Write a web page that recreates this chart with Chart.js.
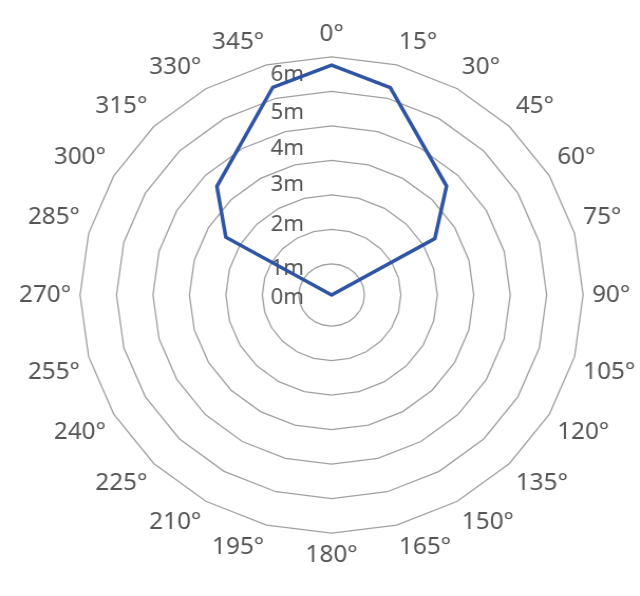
<!DOCTYPE html>
<html>
<head>
<meta charset="utf-8">
<script src="https://cdn.jsdelivr.net/npm/chart.js@4.4.1/dist/chart.umd.min.js"></script>
<style>
  html, body { margin: 0; padding: 0; background: #fff; }
  #chart { display: block; transform: scaleX(1.056); transform-origin: 0 0; }
</style>
</head>
<body>
<canvas id="chart" width="606" height="596"></canvas>
<script>
// ── data ────────────────────────────────────────────────
const directions = ['0°', '15°', '30°', '45°', '60°', '75°', '90°', '105°',
  '120°', '135°', '150°', '165°', '180°', '195°', '210°', '225°',
  '240°', '255°', '270°', '285°', '300°', '315°', '330°', '345°'];

// heights in grid units; the centre of the plot sits at -0.9
const heights = [5.76, 5.32, null, 3.56, 2.37, -0.9, -0.9, -0.9,
  -0.9, -0.9, -0.9, -0.9, -0.9, -0.9, -0.9, -0.9,
  -0.9, -0.9, -0.9, -0.9, 2.45, 3.55, null, 5.33];

const rMin = -0.9;
const rMax = 6;
const rStep = 1;

// how far each "Nm" label sits below its ring, px
const labelDrop = [34, 40, 30, 25, 23, 22, 18];
// pushes the centred tick labels left of the vertical axis
const PAD = '\u2003\u2003\u2003\u2003';

const FONT = "'Noto Sans', 'Open Sans', sans-serif";

new Chart(document.getElementById('chart'), {
  type: 'radar',
  data: {
    labels: directions,
    datasets: [{
      data: heights,
      borderColor: '#2E54A3',
      borderWidth: 3.5,
      fill: false,
      pointRadius: 0,
      pointHoverRadius: 0,
      spanGaps: true,
      tension: 0
    }]
  },
  options: {
    responsive: false,
    animation: false,
    layout: { padding: { left: 14, right: -24, top: -22, bottom: 4 } },
    plugins: { legend: { display: false }, tooltip: { enabled: false } },
    scales: {
      r: {
        min: rMin,
        max: rMax,
        angleLines: { display: false },
        grid: { color: '#A0A0A0', lineWidth: 1.3 },
        pointLabels: {
          color: '#555',
          padding: -4,
          font: { family: FONT, size: 23 }
        },
        ticks: {
          stepSize: rStep,
          autoSkip: false,
          showLabelBackdrop: false,
          color: '#555',
          font: ctx => ({
            family: FONT,
            size: 21,
            lineHeight: (labelDrop[ctx.index - 1] || 0) + 'px'
          }),
          callback: v => (v < 0 ? '' : ['', v + 'm' + PAD])
        }
      }
    }
  }
});
</script>
</body>
</html>
